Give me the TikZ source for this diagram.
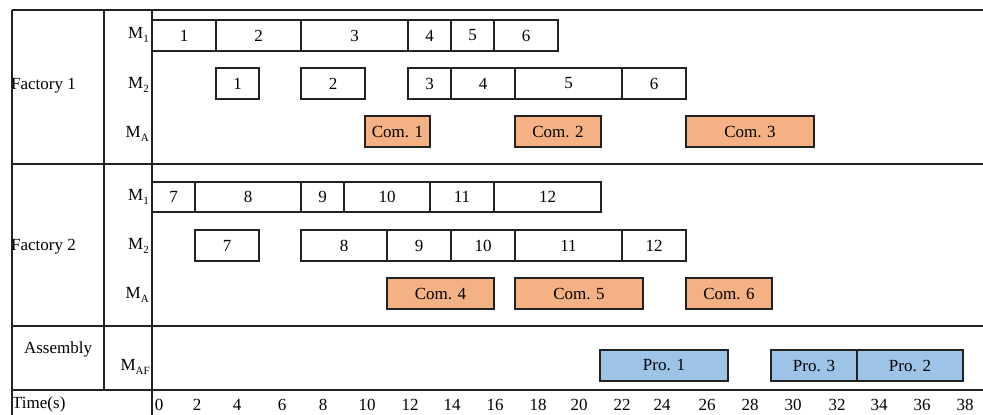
\documentclass[tikz,border=0pt]{standalone}
\usepackage{fontspec}
\setmainfont{Liberation Serif}
\definecolor{comfill}{HTML}{F4B183}
\definecolor{profill}{HTML}{9DC3E6}
\definecolor{ink}{HTML}{222222}
\tikzset{
  gridline/.style={line width=1.2pt, draw=ink},
  job/.style={draw=ink, line width=1.1pt, fill=white, inner sep=0pt, outer sep=0pt,
    anchor=north west, font=\fontsize{17}{17}\selectfont},
  com/.style={job, fill=comfill},
  pro/.style={job, fill=profill},
  lab/.style={font=\fontsize{17}{17}\selectfont, inner sep=0pt},
}
\newcommand\gtask[7]{\node[#7, minimum width={#3pt-#2pt}, minimum height={#5pt-#4pt}] (#1) at (#2,#4) {#6};}
\newcommand\msub[2]{M\raisebox{-0.45ex}{\fontsize{11}{11}\selectfont #2}}
\begin{document}
\begin{tikzpicture}[x=1pt,y=-1pt]
\useasboundingbox (0,0) rectangle (983,415);
% grid
\draw[gridline] (12,10) -- (983,10);
\draw[gridline] (12,164) -- (983,164);
\draw[gridline] (12,326) -- (983,326);
\draw[gridline] (12,390) -- (983,390);
\draw[gridline] (12,10) -- (12,415);
\draw[gridline] (104,10) -- (104,390);
\draw[gridline] (152,10) -- (152,415);
% left labels
\node[lab, anchor=west] (f1) at (11,86) {Factory 1};
\node[lab, anchor=west] (f2) at (11,247) {Factory 2};
\node[lab] (asm) at (58,349) {Assembly};
\node[lab, anchor=west] (time) at (12,404) {Time(s)};
\node[lab, anchor=east] (f1m1) at (149,35) {\msub{}{1}};
\node[lab, anchor=east] (f1m2) at (149,85) {\msub{}{2}};
\node[lab, anchor=east] (f1ma) at (149,134) {\msub{}{A}};
\node[lab, anchor=east] (f2m1) at (149,197) {\msub{}{1}};
\node[lab, anchor=east] (f2m2) at (149,246) {\msub{}{2}};
\node[lab, anchor=east] (f2ma) at (149,295) {\msub{}{A}};
\node[lab, anchor=east] (maf) at (150,367) {\msub{}{AF}};
% Factory 1 M1
\gtask{a1}{152}{216}{20}{51}{1}{job}
\gtask{a2}{216}{301}{20}{51}{2}{job}
\gtask{a3}{301}{408}{20}{51}{3}{job}
\gtask{a4}{408}{451}{20}{51}{4}{job}
\gtask{a5}{451}{494}{20}{51}{5}{job}
\gtask{a6}{494}{558}{20}{51}{6}{job}
% Factory 1 M2
\gtask{b1}{216}{259}{68}{99}{1}{job}
\gtask{b2}{301}{365}{68}{99}{2}{job}
\gtask{b3}{408}{451}{68}{99}{3}{job}
\gtask{b4}{451}{515}{68}{99}{4}{job}
\gtask{b5}{515}{622}{68}{99}{5}{job}
\gtask{b6}{622}{686}{68}{99}{6}{job}
% Factory 1 MA
\gtask{c1}{365}{430}{116}{147}{Com. 1}{com}
\gtask{c2}{515}{601}{116}{147}{Com. 2}{com}
\gtask{c3}{686}{814}{116}{147}{Com. 3}{com}
% Factory 2 M1
\gtask{d7}{152}{195}{182}{212}{7}{job}
\gtask{d8}{195}{301}{182}{212}{8}{job}
\gtask{d9}{301}{344}{182}{212}{9}{job}
\gtask{d10}{344}{430}{182}{212}{10}{job}
\gtask{d11}{430}{494}{182}{212}{11}{job}
\gtask{d12}{494}{601}{182}{212}{12}{job}
% Factory 2 M2
\gtask{e7}{195}{259}{230}{261}{7}{job}
\gtask{e8}{301}{387}{230}{261}{8}{job}
\gtask{e9}{387}{451}{230}{261}{9}{job}
\gtask{e10}{451}{515}{230}{261}{10}{job}
\gtask{e11}{515}{622}{230}{261}{11}{job}
\gtask{e12}{622}{686}{230}{261}{12}{job}
% Factory 2 MA
\gtask{g4}{387}{494}{278}{309}{Com. 4}{com}
\gtask{g5}{515}{643}{278}{309}{Com. 5}{com}
\gtask{g6}{686}{772}{278}{309}{Com. 6}{com}
% Assembly
\gtask{p1}{600}{728}{350}{381}{Pro. 1}{pro}
\gtask{p3}{771}{857}{350}{381}{Pro. 3}{pro}
\gtask{p2}{857}{963}{350}{381}{Pro. 2}{pro}
% time axis
\foreach \v/\x in {0/159,2/197,4/237,6/282,8/323,10/367,12/410,14/452,16/495,18/538,20/579,22/622,24/662,26/707,28/750,30/793,32/837,34/879,36/922,38/965}
  \node[lab] (t\v) at (\x,405) {\v};
\end{tikzpicture}
\end{document}
